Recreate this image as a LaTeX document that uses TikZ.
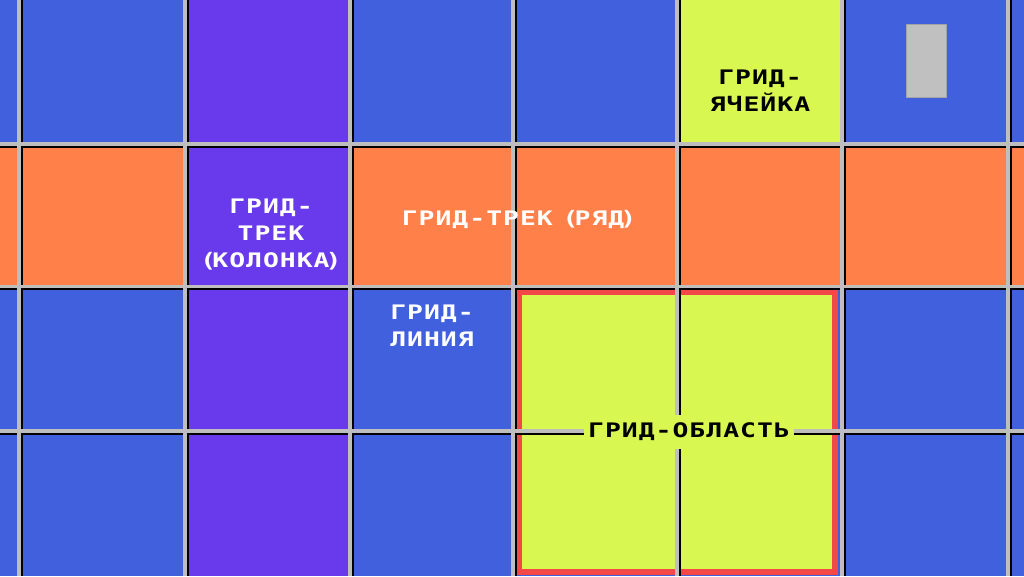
\documentclass[tikz,border=0pt]{standalone}
\usepackage{fontspec}
\newfontfamily\pixfont[LetterSpace=5,FakeStretch=1.32]{DejaVu Sans Mono}
\newcommand{\pk}{\kern-4pt}
\definecolor{cblue}{HTML}{4060DE}
\definecolor{cpurple}{HTML}{693AEB}
\definecolor{corange}{HTML}{FF8048}
\definecolor{clime}{HTML}{D8F750}
\definecolor{cred}{HTML}{F44848}
\definecolor{cline}{HTML}{BEBEBE}
\definecolor{cbox}{HTML}{C0C0C0}
\tikzset{
  lbl/.style={font=\pixfont\bfseries\fontsize{20}{27}\selectfont, align=center, inner sep=0pt},
  whitelbl/.style={lbl, text=white},
  blacklbl/.style={lbl, text=black},
  shadowline/.style={draw=black, line width=2},
  gridline/.style={draw=cline, line width=3.5},
}
\begin{document}
\begin{tikzpicture}[x=1pt,y=-1pt]
\useasboundingbox (0,0) rectangle (1024,576);
% background regions
\fill[cblue] (0,0) rectangle (1024,576);
\fill[corange] (0,144) rectangle (1024,286.5);
\fill[cpurple] (185,0) rectangle (350,576);
\fill[clime] (677,0) rectangle (842,144);
% grid area
\filldraw[fill=clime, draw=cred, line width=6] (518.5,291.5) rectangle (835,572);
% grid lines: shadows
\foreach \x in {19,185,350,513,677,842,1008} {
  \draw[shadowline] (\x+2.5,0) -- (\x+2.5,576);
}
\foreach \y in {144,286.5,431} {
  \draw[shadowline] (0,\y+2.5) -- (1024,\y+2.5);
}
% grid lines
\foreach \x in {19,185,350,513,677,842,1008} {
  \draw[gridline] (\x,0) -- (\x,576);
}
\foreach \y in {144,286.5,431} {
  \draw[gridline] (0,\y) -- (1024,\y);
}
% small gray box
\node[draw=cbox!85!black, line width=0.6, fill=cbox, minimum width=40, minimum height=73, inner sep=0pt] (gbox) at (926,60.5) {};
% labels
\node[blacklbl] (cell) at (760,90.5) {ГРИД-\\ЯЧЕЙКА};
\node[whitelbl] (col) at (271,235) {ГРИД-\\ТРЕК\\(\pk КОЛОНКА\pk)};
\node[whitelbl] (row) at (519,219) {ГРИД-ТРЕК\kern-7pt\ (\pk РЯД\pk)};
\node[whitelbl] (gline) at (432,326) {ГРИД-\\ЛИНИЯ};
\node[blacklbl, fill=clime, inner xsep=4, inner ysep=8] (garea) at (689,432) {ГРИД-ОБЛАСТЬ};
\end{tikzpicture}
\end{document}
